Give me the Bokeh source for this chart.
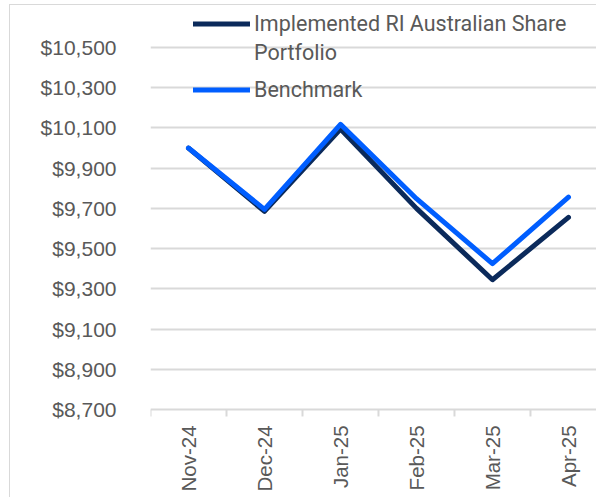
import math
from bokeh.plotting import figure
from bokeh.core.properties import value
from bokeh.models import (FixedTicker, NumeralTickFormatter, Range1d, Legend, LegendItem,
                          InlineStyleSheet, LabelSet, ColumnDataSource)
from bokeh.embed import file_html
from bokeh.resources import INLINE

# ---- data ----
months = ["Nov-24", "Dec-24", "Jan-25", "Feb-25", "Mar-25", "Apr-25"]
portfolio = [10000, 9685, 10095, 9700, 9345, 9655]
benchmark = [10000, 9695, 10118, 9748, 9425, 9756]
y_ticks = [8700, 8900, 9100, 9300, 9500, 9700, 9900, 10100, 10300, 10500]
portfolio_label = ["Implemented RI Australian Share", "Portfolio"]
benchmark_label = "Benchmark"
series_colors = ["#0B2A5B", "#005EFF"]

GRAY_TEXT = "#595959"
GRID = "#D9D9D9"
TICK_LEN = 35  # length of category boundary ticks, in value units (~7px)

xs = list(range(len(months)))
bounds = [i - 0.5 for i in range(len(months) + 1)]
y_base = y_ticks[0]

border_css = InlineStyleSheet(css=":host { margin-left: 9px; margin-top: 4px; "
                                  "border-left: 1px solid #D9D9D9; border-top: 1px solid #D9D9D9; }")

p = figure(width=587, height=493, output_backend="svg", toolbar_location=None,
           x_axis_location=None,
           x_range=Range1d(-0.5, 5.382), y_range=Range1d(8257, 10709),
           min_border_left=140, min_border_right=0, min_border_top=0, min_border_bottom=0,
           stylesheets=[border_css])
p.outline_line_color = None
p.background_fill_color = "white"
p.border_fill_color = "white"

# category boundary ticks below the baseline
p.segment(x0=bounds, y0=[y_base] * len(bounds), x1=bounds, y1=[y_base - TICK_LEN] * len(bounds),
          line_color=GRID, line_width=2)

r1 = p.line(xs, portfolio, line_color=series_colors[0], line_width=5, line_cap="round", line_join="round")
r2 = p.line(xs, benchmark, line_color=series_colors[1], line_width=5, line_cap="round", line_join="round")
r_blank = p.line(xs, portfolio, line_alpha=0, line_width=5)

# y axis
p.yaxis.ticker = FixedTicker(ticks=y_ticks)
p.yaxis.formatter = NumeralTickFormatter(format="$0,0")
p.yaxis.axis_line_color = None
p.yaxis.major_tick_line_color = None
p.yaxis.minor_tick_line_color = None
p.yaxis.major_label_standoff = 28
p.yaxis.major_label_text_font = "Liberation Sans"
p.yaxis.major_label_text_font_size = "21px"
p.yaxis.major_label_text_color = GRAY_TEXT
p.ygrid.ticker = FixedTicker(ticks=y_ticks)
p.ygrid.grid_line_color = GRID
p.ygrid.grid_line_width = 2
p.xgrid.grid_line_color = None

# month labels, rotated, below the baseline
month_src = ColumnDataSource(dict(x=xs, y=[y_base] * len(months), label=months))
month_labels = LabelSet(x="x", y="y", text="label", source=month_src,
                        angle=math.pi / 2, text_align="right", text_baseline="middle",
                        y_offset=-16, text_font=value("Liberation Sans"),
                        text_font_size=value("20.5px"), text_color=value(GRAY_TEXT))
p.add_layout(month_labels)

legend_style = dict(orientation="vertical", background_fill_alpha=0, border_line_color=None,
                    padding=0, margin=0, spacing=0, glyph_width=57, glyph_height=29,
                    label_height=29, label_standoff=4, label_text_font="Roboto",
                    label_text_font_size="21.5px", label_text_color=GRAY_TEXT)

legend1 = Legend(items=[LegendItem(label=portfolio_label[0], renderers=[r1]),
                        LegendItem(label=portfolio_label[1], renderers=[r_blank])],
                 location=(43, 431), **legend_style)
legend2 = Legend(items=[LegendItem(label=benchmark_label, renderers=[r2])],
                 location=(43, 394), **legend_style)
p.add_layout(legend1, "center")
p.add_layout(legend2, "center")

open("out.html", "w").write(file_html(p, INLINE))
